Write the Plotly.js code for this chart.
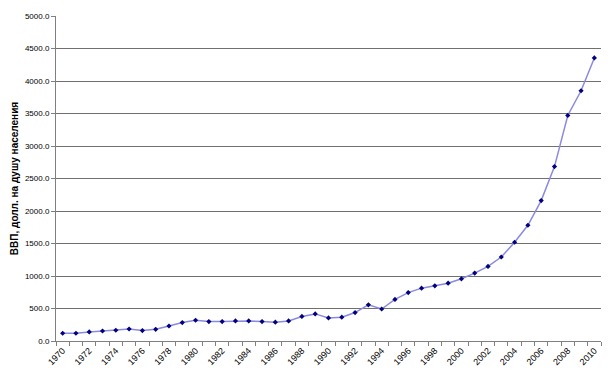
<!DOCTYPE html>
<html>
<head>
<meta charset="utf-8">
<script src="https://cdn.plot.ly/plotly-3.0.1.min.js"></script>
<style>
html,body{margin:0;padding:0;background:#fff;}
#chart{width:609px;height:379px;}
</style>
</head>
<body>
<div id="chart"></div>
<script>
var years = [1970,1971,1972,1973,1974,1975,1976,1977,1978,1979,
             1980,1981,1982,1983,1984,1985,1986,1987,1988,1989,
             1990,1991,1992,1993,1994,1995,1996,1997,1998,1999,
             2000,2001,2002,2003,2004,2005,2006,2007,2008,2009,2010];
var gdpPerCapita = [119,119,139,154,165,185,160,180,231,284,
                    319,299,299,309,309,299,289,309,378,417,
                    355,366,438,556,492,640,745,813,849,890,
                    957,1045,1148,1292,1519,1781,2160,2683,3470,3850,4355];
var tickYears = [1970,1972,1974,1976,1978,1980,1982,1984,1986,1988,1990,
                 1992,1994,1996,1998,2000,2002,2004,2006,2008,2010];
var tickLabels = tickYears.map(String);
var yTitle = 'ВВП, долл. на душу населения';

var trace = {
  x: years,
  y: gdpPerCapita,
  type: 'scatter',
  mode: 'lines+markers',
  line: {color: '#8a8ae0', width: 1.5},
  marker: {color: '#000080', symbol: 'diamond', size: 4},
  hoverinfo: 'x+y'
};

var layout = {
  width: 609,
  height: 379,
  margin: {l: 56, r: 8, t: 16, b: 38},
  paper_bgcolor: '#ffffff',
  plot_bgcolor: '#ffffff',
  showlegend: false,
  font: {family: 'Liberation Sans, Arial, sans-serif', size: 8, color: '#000'},
  xaxis: {
    type: 'linear',
    range: [years[0] - 0.5, years[years.length - 1] + 0.5],
    tickmode: 'array',
    tickvals: tickYears,
    ticktext: tickLabels,
    tickangle: -45,
    ticks: '',
    showgrid: false,
    zeroline: false,
    showline: true,
    linecolor: '#808080',
    linewidth: 1,
    tickfont: {size: 9, color: '#000'},
    minor: {tick0: 1969.5, dtick: 1, ticks: 'outside', ticklen: 4, tickcolor: '#808080', showgrid: false}
  },
  yaxis: {
    range: [0, 5000],
    dtick: 500,
    tick0: 0,
    tickformat: '.1f',
    ticks: 'outside',
    ticklen: 4,
    tickcolor: '#808080',
    showgrid: true,
    gridcolor: '#707070',
    gridwidth: 1,
    zeroline: false,
    showline: true,
    linecolor: '#808080',
    linewidth: 1,
    tickfont: {size: 8, color: '#000'},
    title: {text: yTitle, font: {size: 10, color: '#000', weight: 'bold'}, standoff: 4}
  }
};

Plotly.newPlot('chart', [trace], layout, {displayModeBar: false, staticPlot: true});
</script>
</body>
</html>
